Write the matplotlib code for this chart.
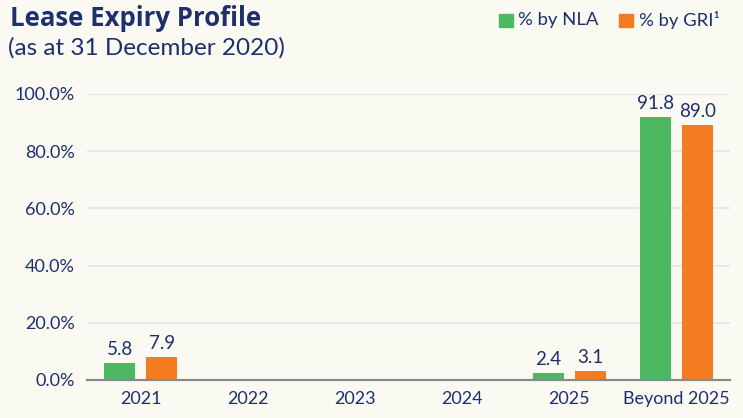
import matplotlib.pyplot as plt
import numpy as np

categories = ["2021", "2022", "2023", "2024", "2025", "Beyond 2025"]
nla = [5.8, None, None, None, 2.4, 91.8]
gri = [7.9, None, None, None, 3.1, 89.0]
yticks = [0, 20, 40, 60, 80, 100]

navy = "#1e2f6e"
green = "#4cb862"
orange = "#f47b20"
bg = "#fafaf3"

plt.rcParams["font.family"] = ["Lato", "DejaVu Sans"]

fig = plt.figure(figsize=(7.43, 4.18), dpi=100)
fig.patch.set_facecolor(bg)
ax = fig.add_axes([87 / 743, 38 / 418, 643 / 743, 286 / 418])
ax.set_facecolor("none")

x = np.arange(len(categories))
w = 0.29
off = 0.196
for vals, color, sign in [(nla, green, -1), (gri, orange, 1)]:
    for xi, v in zip(x, vals):
        if v is None:
            continue
        ax.bar(xi + sign * off, v, width=w, color=color, zorder=3)
        ax.text(xi + sign * off, v + 1.8, f"{v:.1f}", ha="center", va="bottom",
                fontsize=13.5, color=navy, zorder=4)

ax.set_xlim(-0.5, len(categories) - 0.5)
ax.set_ylim(0, 100)
ax.set_yticks(yticks)
ax.set_yticklabels([f"{t:.1f}%" for t in yticks])
ax.set_xticks(x)
ax.set_xticklabels(categories)
ax.tick_params(axis="both", length=0, labelsize=13, labelcolor=navy)
ax.tick_params(axis="y", pad=9)
ax.tick_params(axis="x", pad=8)
ax.yaxis.grid(True, color="#e6e6e2", linewidth=1.2, zorder=0)
for s in ["top", "right", "left"]:
    ax.spines[s].set_visible(False)
ax.spines["bottom"].set_color("#8a8a8a")
ax.spines["bottom"].set_linewidth(1.6)
ax.spines["bottom"].set_zorder(5)

fig.text(10 / 743, 1 - 19 / 418, "Lease Expiry Profile", fontsize=18.5,
         fontweight="bold", color=navy, va="center", ha="left",
         family=["Open Sans", "DejaVu Sans"])
fig.text(8 / 743, 1 - 48 / 418, "(as at 31 December 2020)", fontsize=17.5,
         color=navy, va="center", ha="left")

# legend
for lx, tx, color, label in [(499, 518, green, "% by NLA"), (619, 639, orange, "% by GRI¹")]:
    fig.patches.append(plt.Rectangle((lx / 743, 1 - 27 / 418), 14 / 743, 13 / 418,
                                     transform=fig.transFigure, color=color))
    fig.text(tx / 743, 1 - 20 / 418, label, fontsize=13.3, color=navy,
             va="center", ha="left")

fig.savefig("out.png", dpi=100, facecolor=bg)
